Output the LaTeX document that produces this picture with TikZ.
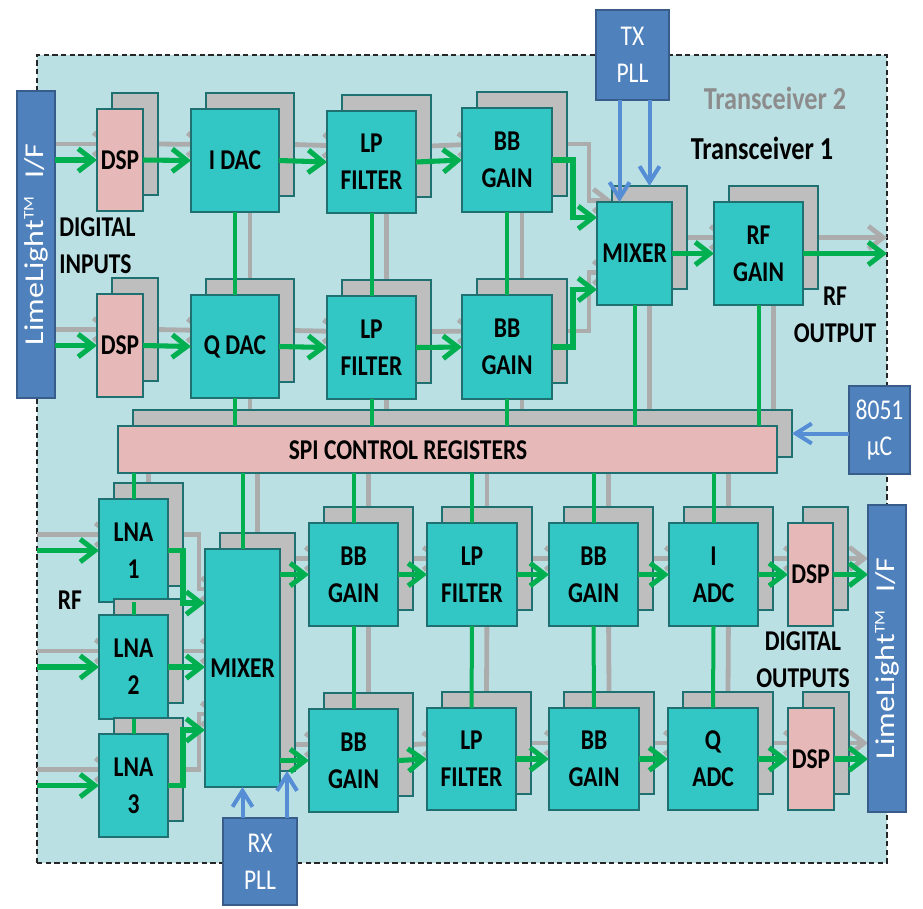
\documentclass[tikz,border=0pt]{standalone}
\usepackage{fontspec}
\setmainfont[FakeStretch=0.82]{Carlito}
\newfontfamily\llfont{Carlito}
\usetikzlibrary{arrows.meta,calc}
\pgfdeclarelayer{bglayer}
\pgfdeclarelayer{glayer}
\pgfsetlayers{bglayer,glayer,main}
\definecolor{bgfill}{RGB}{187,224,228}
\definecolor{tealfill}{RGB}{50,198,196}
\definecolor{tealedge}{RGB}{31,112,112}
\definecolor{pinkfill}{RGB}{230,185,184}
\definecolor{shadowgray}{RGB}{190,190,190}
\definecolor{grayc}{RGB}{172,172,172}
\definecolor{greenc}{RGB}{0,176,80}
\definecolor{bluefill}{RGB}{79,129,189}
\definecolor{blueedge}{RGB}{56,93,138}
\definecolor{bluec}{RGB}{85,142,213}
\definecolor{tgray}{RGB}{140,140,140}
\newcommand\boxfont{\bfseries\fontsize{21.5}{27.5}\selectfont}
\newcommand\whitefont{\fontsize{21.5}{27.5}\selectfont}
\newcommand\tfont{\bfseries\fontsize{24}{28}\selectfont}
\newcommand\llfontsz{\llfont\fontsize{24}{24}\selectfont}
\tikzset{
 frontbox/.style={draw=tealedge, line width=0.9pt, fill=tealfill, inner sep=0pt, outer sep=0pt, align=center, font=\boxfont},
 pinkbox/.style={frontbox, fill=pinkfill},
 shadowbox/.style={draw=tealedge, line width=0.9pt, fill=shadowgray, inner sep=0pt, outer sep=0pt},
 bluebox/.style={draw=blueedge, line width=2pt, fill=bluefill, inner sep=0pt, outer sep=0pt, align=center, text=white, font=\whitefont},
 gline/.style={draw=greenc, line width=3pt},
 garrow/.style={draw=greenc, line width=3.8pt, -{Straight Barb[length=11pt,width=17pt]}},
 grayline/.style={draw=grayc, line width=3.6pt},
 grayarrow/.style={grayline, -{Straight Barb[length=11pt,width=17pt]}},
 barrow/.style={draw=bluec, line width=3pt, -{Straight Barb[length=12pt,width=15pt]}},
 lbl/.style={font=\boxfont, align=center, inner sep=0pt},
}
% \blk[style]{name}{x1}{y1}{x2}{y2}{text}
\newcommand\blk[7][frontbox]{%
 \node[shadowbox, minimum width={(#5-#3)*0.75pt}, minimum height={(#6-#4)*0.75pt}] (#2-s) at ({(#3+#5)/2+15},{(#4+#6)/2-16}) {};
 \node[#1, minimum width={(#5-#3)*0.75pt}, minimum height={(#6-#4)*0.75pt}] (#2) at ({(#3+#5)/2},{(#4+#6)/2}) {#7};}
\newcommand\bluebx[6]{%
 \node[bluebox, minimum width={(#4-#2)*0.75pt}, minimum height={(#5-#3)*0.75pt}] (#1) at ({(#2+#4)/2},{(#3+#5)/2}) {#6};}
\begin{document}
\begin{tikzpicture}[x=0.75pt,y=-0.75pt]
\useasboundingbox (0,0) rectangle (923,908);
\begin{pgfonlayer}{bglayer}
\node[draw=black!85, dash pattern=on 4pt off 2.5pt, line width=0.8pt, fill=bgfill, inner sep=0pt, outer sep=0pt, minimum width={850*0.75pt}, minimum height={808*0.75pt}] (bg) at (462,459) {};
\end{pgfonlayer}

% ---------- blocks ----------
\blk[pinkbox]{dspI}{97}{109}{143}{211}{DSP}
\blk{idac}{191}{109}{279}{212}{I DAC}
\blk{lpI}{327}{111}{416}{213}{LP\\FILTER}
\blk{bbI}{462}{108}{552}{212}{BB\\GAIN}
\blk[pinkbox]{dspQ}{97}{294}{143}{397}{DSP}
\blk{qdac}{191}{295}{279}{398}{Q DAC}
\blk{lpQ}{327}{296}{416}{399}{LP\\FILTER}
\blk{bbQ}{462}{295}{552}{399}{BB\\GAIN}
\blk{txmix}{597}{202}{672}{305}{MIXER}
\blk{rfgain}{714}{202}{803}{305}{RF\\GAIN}
\blk[pinkbox]{spi}{118}{426}{777}{473}{}
\node[lbl] (spit) at (408,450) {SPI CONTROL REGISTERS};
\blk{lna1}{99}{499}{168}{602}{LNA\\1}
\blk{lna2}{99}{615}{168}{719}{LNA\\2}
\blk{lna3}{99}{734}{168}{837}{LNA\\3}
\blk{rxmix}{205}{549}{280}{787}{MIXER}
\blk{bbr1}{309}{523}{398}{626}{BB\\GAIN}
\blk{lpr1}{427}{523}{517}{626}{LP\\FILTER}
\blk{bbr2}{549}{523}{638}{626}{BB\\GAIN}
\blk{iadc}{669}{523}{758}{626}{I\\ADC}
\blk[pinkbox]{dspo1}{788}{523}{833}{626}{DSP}
\blk{bbr3}{309}{709}{398}{812}{BB\\GAIN}
\blk{lpr2}{427}{708}{516}{810}{LP\\FILTER}
\blk{bbr4}{549}{708}{639}{810}{BB\\GAIN}
\blk{qadc}{668}{708}{758}{810}{Q\\ADC}
\blk[pinkbox]{dspo2}{788}{708}{834}{810}{DSP}

% ---------- blue boxes ----------
\bluebx{llL}{17}{91}{55}{398}{}
\bluebx{llR}{868}{505}{906}{812}{}
\bluebx{txpll}{596}{10}{669}{100}{TX\\PLL}
\bluebx{rxpll}{223}{818}{297}{905}{RX\\PLL}
\bluebx{uc}{849}{386}{910}{474}{8051\\µC}
\node[rotate=90, text=white, inner sep=0pt, font=\llfontsz] (llLt) at (llL.center) {\scalebox{1}[0.85]{LimeLight\raisebox{0.75ex}{\fontsize{13}{13}\selectfont TM}\hspace{0.55em}I/F}};
\node[rotate=90, text=white, inner sep=0pt, font=\llfontsz] (llRt) at (llR.center) {\scalebox{1}[0.85]{LimeLight\raisebox{0.75ex}{\fontsize{13}{13}\selectfont TM}\hspace{0.55em}I/F}};

% ---------- labels ----------
\node[lbl, align=left, anchor=west] (din) at (59,246) {DIGITAL\\INPUTS};
\node[lbl] (rfin) at (70,600) {RF};
\node[lbl] (rfout) at (835,315) {RF\\OUTPUT};
\node[lbl] (dout) at (803,660) {DIGITAL\\OUTPUTS};
\node[inner sep=0pt, font=\tfont, text=tgray] (t2) at (775,98) {Transceiver 2};
\node[inner sep=0pt, font=\tfont] (t1) at (762,148) {Transceiver 1};

% ---------- gray (Transceiver 2) connectors ----------
\begin{pgfonlayer}{glayer}
\draw[grayarrow] (llL.east |- dspI-s.west) -- (dspI-s.west);
\draw[grayarrow] (dspI-s.east) -- (idac-s.west);
\draw[grayarrow] (idac-s.east) -- (lpI-s.west);
\draw[grayarrow] (lpI-s.east) -- (bbI-s.west);
\draw[grayarrow] (llL.east |- dspQ-s.west) -- (dspQ-s.west);
\draw[grayarrow] (dspQ-s.east) -- (qdac-s.west);
\draw[grayarrow] (qdac-s.east) -- (lpQ-s.west);
\draw[grayarrow] (lpQ-s.east) -- (bbQ-s.west);
\draw[grayarrow] (bbI-s.east) -- ++(22,0) |- ($(txmix-s.west)+(0,-37)$);
\draw[grayarrow] (bbQ-s.east) -- ++(22,0) |- ($(txmix-s.west)+(0,35)$);
\draw[grayarrow] (txmix-s.east) -- (rfgain-s.west);
\draw[grayarrow] (rfgain-s.east) -- (rfgain-s.east -| bg.east);
\draw[grayline] (idac-s.south) -- (qdac-s.north);
\draw[grayline] (lpI-s.south) -- (lpQ-s.north);
\draw[grayline] (bbI-s.south) -- (bbQ-s.north);
\draw[grayline] (qdac-s.south) -- (qdac-s.south |- spi-s.north);
\draw[grayline] (lpQ-s.south) -- (lpQ-s.south |- spi-s.north);
\draw[grayline] (bbQ-s.south) -- (bbQ-s.south |- spi-s.north);
\draw[grayline] (txmix-s.south) -- (txmix-s.south |- spi-s.north);
\draw[grayline] (rfgain-s.south) -- (rfgain-s.south |- spi-s.north);
\draw[grayline] (spi-s.south -| lna1-s.north) -- (lna1-s.north);
\draw[grayline] (spi-s.south -| rxmix-s.north) -- (rxmix-s.north);
\draw[grayline] (spi-s.south -| bbr1-s.north) -- (bbr1-s.north);
\draw[grayline] (spi-s.south -| lpr1-s.north) -- (lpr1-s.north);
\draw[grayline] (spi-s.south -| bbr2-s.north) -- (bbr2-s.north);
\draw[grayline] (spi-s.south -| iadc-s.north) -- (iadc-s.north);
\draw[grayline] (bbr1-s.south) -- (bbr3-s.north);
\draw[grayline] (lpr1-s.south) -- (lpr2-s.north);
\draw[grayline] (bbr2-s.south) -- (bbr4-s.north);
\draw[grayline] (iadc-s.south) -- (qadc-s.north);
\draw[grayarrow] (bg.west |- lna1-s.west) -- (lna1-s.west);
\draw[grayarrow] (bg.west |- lna2-s.west) -- (lna2-s.west);
\draw[grayarrow] (bg.west |- lna3-s.west) -- (lna3-s.west);
\draw[grayarrow] (lna1-s.east) -- ++(16,0) |- ($(rxmix-s.west)+(0,-63)$);
\draw[grayarrow] (lna2-s.east) -- (lna2-s.east -| rxmix-s.west);
\draw[grayarrow] (lna3-s.east) -- ++(16,0) |- ($(rxmix-s.west)+(0,62)$);
\draw[grayarrow] (bbr1-s.west -| rxmix-s.east) -- (bbr1-s.west);
\draw[grayarrow] (bbr3-s.west -| rxmix-s.east) -- (bbr3-s.west);
\draw[grayarrow] (bbr1-s.east) -- (lpr1-s.west);
\draw[grayarrow] (lpr1-s.east) -- (bbr2-s.west);
\draw[grayarrow] (bbr2-s.east) -- (iadc-s.west);
\draw[grayarrow] (iadc-s.east) -- (dspo1-s.west);
\draw[grayarrow] (dspo1-s.east) -- (dspo1-s.east -| llR.west);
\draw[grayarrow] (bbr3-s.east) -- (lpr2-s.west);
\draw[grayarrow] (lpr2-s.east) -- (bbr4-s.west);
\draw[grayarrow] (bbr4-s.east) -- (qadc-s.west);
\draw[grayarrow] (qadc-s.east) -- (dspo2-s.west);
\draw[grayarrow] (dspo2-s.east) -- (dspo2-s.east -| llR.west);
\end{pgfonlayer}

% ---------- green (Transceiver 1) connectors ----------
\draw[garrow] (llL.east |- dspI.west) -- (dspI.west);
\draw[garrow] (dspI.east) -- (idac.west);
\draw[garrow] (idac.east) -- (lpI.west);
\draw[garrow] (lpI.east) -- (bbI.west);
\draw[garrow] (llL.east |- dspQ.west) -- (dspQ.west);
\draw[garrow] (dspQ.east) -- (qdac.west);
\draw[garrow] (qdac.east) -- (lpQ.west);
\draw[garrow] (lpQ.east) -- (bbQ.west);
\draw[garrow] (bbI.east) -- ++(21,0) |- ($(txmix.west)+(0,-36)$);
\draw[garrow] (bbQ.east) -- ++(21,0) |- ($(txmix.west)+(0,36)$);
\draw[garrow] (txmix.east) -- (rfgain.west);
\draw[garrow] (rfgain.east) -- (rfgain.east -| bg.east);
\draw[gline] (idac.south) -- (qdac.north);
\draw[gline] (lpI.south) -- (lpQ.north);
\draw[gline] (bbI.south) -- (bbQ.north);
\draw[gline] (qdac.south) -- (qdac.south |- spi.north);
\draw[gline] (lpQ.south) -- (lpQ.south |- spi.north);
\draw[gline] (bbQ.south) -- (bbQ.south |- spi.north);
\draw[gline] (txmix.south) -- (txmix.south |- spi.north);
\draw[gline] (rfgain.south) -- (rfgain.south |- spi.north);
\draw[gline] (spi.south -| lna1.north) -- (lna1.north);
\draw[gline] (lna1.south) -- (lna2.north);
\draw[gline] (lna2.south) -- (lna3.north);
\draw[gline] (spi.south -| rxmix.north) -- (rxmix.north);
\draw[gline] (spi.south -| bbr1.north) -- (bbr1.north);
\draw[gline] (spi.south -| lpr1.north) -- (lpr1.north);
\draw[gline] (spi.south -| bbr2.north) -- (bbr2.north);
\draw[gline] (spi.south -| iadc.north) -- (iadc.north);
\draw[gline] (bbr1.south) -- (bbr3.north);
\draw[gline] (lpr1.south) -- (lpr2.north);
\draw[gline] (bbr2.south) -- (bbr4.north);
\draw[gline] (iadc.south) -- (qadc.north);
\draw[garrow] (bg.west |- lna1.west) -- (lna1.west);
\draw[garrow] (bg.west |- lna2.west) -- (lna2.west);
\draw[garrow] (bg.west |- lna3.west) -- (lna3.west);
\draw[garrow] (lna1.east) -- ++(15,0) |- ($(rxmix.west)+(0,-65)$);
\draw[garrow] (lna2.east) -- (lna2.east -| rxmix.west);
\draw[garrow] (lna3.east) -- ++(15,0) |- ($(rxmix.west)+(0,62)$);
\draw[garrow] (bbr1.west -| rxmix.east) -- (bbr1.west);
\draw[garrow] (bbr3.west -| rxmix.east) -- (bbr3.west);
\draw[garrow] (bbr1.east) -- (lpr1.west);
\draw[garrow] (lpr1.east) -- (bbr2.west);
\draw[garrow] (bbr2.east) -- (iadc.west);
\draw[garrow] (iadc.east) -- (dspo1.west);
\draw[garrow] (dspo1.east) -- (dspo1.east -| llR.west);
\draw[garrow] (bbr3.east) -- (lpr2.west);
\draw[garrow] (lpr2.east) -- (bbr4.west);
\draw[garrow] (bbr4.east) -- (qadc.west);
\draw[garrow] (qadc.east) -- (dspo2.west);
\draw[garrow] (dspo2.east) -- (dspo2.east -| llR.west);

% ---------- blue control arrows ----------
\coordinate (txa) at ($(txmix.north)+(-15,0)$);
\draw[barrow] (txa |- txpll.south) -- (txa);
\draw[barrow] (txmix-s.north |- txpll.south) -- (txmix-s.north);
\draw[barrow] (rxmix.south |- rxpll.north) -- (rxmix.south);
\coordinate (rxb) at ($(rxmix-s.south east)+(-8,0)$);
\draw[barrow] (rxb |- rxpll.north) -- (rxb);
\draw[barrow] (uc.west |- spi-s.east) -- (spi-s.east);
\end{tikzpicture}
\end{document}
